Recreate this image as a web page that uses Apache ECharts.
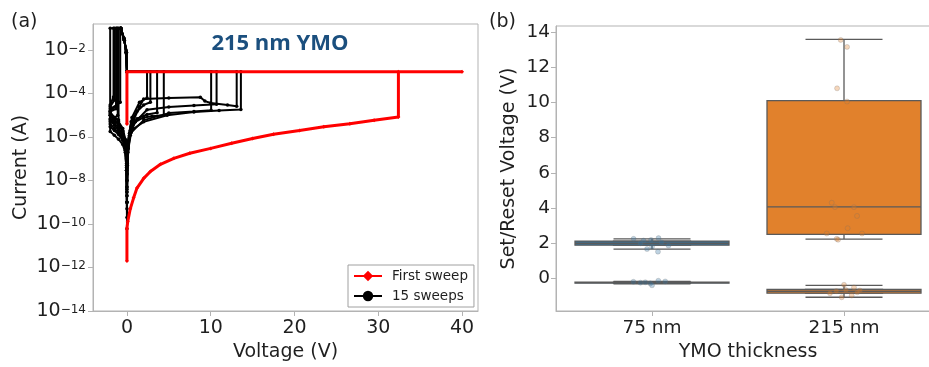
<!DOCTYPE html>
<html>
<head>
<meta charset="utf-8">
<title>YMO resistive switching</title>
<script src="https://cdn.jsdelivr.net/npm/echarts@6/dist/echarts.min.js"></script>
<style>
  html, body { margin: 0; padding: 0; background: #fff; overflow: hidden; }
  /* a bit wider than the window: panel (b) runs past the right edge, as in the figure */
  #chart { width: 945px; height: 367px; }
</style>
</head>
<body>
<div id="chart"></div>
<script>
// (a) I-V sweeps, points are [voltage (V), current (A)]
const firstSweep = [
  [0, 2.0e-12], [0, 6.3e-11], [0.1, 1.3e-10], [0.4, 5e-10], [0.8, 1.6e-9], [1.2, 4.5e-9],
  [2, 1.26e-8], [2.8, 2.6e-8], [4, 5.6e-8], [5.6, 1.05e-7], [7.5, 1.8e-7], [10, 3.0e-7],
  [12.5, 5.2e-7], [15, 8.5e-7], [17.5, 1.35e-6], [20.6, 2.0e-6], [23.5, 2.95e-6], [26.6, 4.1e-6],
  [29.5, 5.9e-6], [32.4, 8.3e-6], [32.4, 1.0e-3], [40, 1.0e-3], [0, 1.0e-3], [0, 4.0e-6]
];
const sweep1 = [
  [0, 6e-11], [0.03, 2e-8], [0.15, 3e-7], [0.4, 1.2e-6], [0.8, 2.4e-6], [2, 5.0e-6], [4.8, 1.0e-5],
  [8, 1.4e-5], [11, 1.66e-5], [13.6, 1.86e-5], [13.6, 1e-3], [0, 1e-3], [-0.08, 8e-3], [-0.32, 3e-2],
  [-0.72, 0.1], [-2, 0.1], [-2, 1.8e-6], [-1.5, 1.2e-6], [-1, 8e-7], [-0.5, 4.5e-7], [-0.2, 2e-7],
  [-0.05, 3e-8], [0, 2e-9]
];
const sweep2 = [
  [0, 1e-9], [0.05, 5e-8], [0.3, 1.5e-6], [0.8, 6e-6], [1.5, 2.5e-5], [2, 5.6e-5], [5, 6.3e-5],
  [8.76, 6.8e-5], [9.3, 4.5e-5], [10, 3.7e-5], [12, 3.0e-5], [13.1, 2.6e-5], [13.1, 1e-3], [0, 1e-3],
  [-0.08, 8e-3], [-0.32, 3e-2], [-0.72, 0.1], [-1, 0.1], [-1, 6e-6], [-1.5, 8e-6], [-2, 1.4e-5],
  [-2, 6e-6], [-1.5, 3.5e-6], [-1, 2e-6], [-0.5, 1e-6], [-0.2, 4e-7], [-0.05, 5e-8], [0, 1e-9]
];
const sweep3 = [
  [0, 1e-9], [0.05, 6e-8], [0.3, 1.2e-6], [1, 5e-6], [2.4, 1.8e-5], [5, 2.4e-5], [8, 2.8e-5],
  [10.7, 3.2e-5], [10.7, 1e-3], [0, 1e-3], [-0.08, 7e-3], [-0.3, 2.8e-2], [-0.7, 0.09], [-1.3, 0.1],
  [-1.3, 2e-5], [-2, 1.5e-5], [-2, 4e-6], [-1.5, 2.5e-6], [-1, 1.6e-6], [-0.5, 8e-7], [-0.2, 3e-7],
  [-0.05, 4e-8], [0, 2e-10]
];
const sweep4 = [
  [0, 5e-9], [0.1, 2e-7], [0.5, 1.6e-6], [2, 6e-6], [5, 1.26e-5], [8, 1.5e-5], [10.05, 1.7e-5],
  [10.05, 1e-3], [0, 1e-3], [-0.08, 9e-3], [-0.35, 3.5e-2], [-0.75, 0.1], [-1.6, 0.1], [-1.6, 7e-5],
  [-2, 3e-5], [-2, 1e-5], [-1.5, 6e-6], [-1, 3.5e-6], [-0.5, 1.8e-6], [-0.2, 6e-7], [-0.05, 8e-8],
  [0, 3e-9]
];
const sweep5 = [
  [0, 3e-9], [0.1, 3e-7], [0.4, 2e-6], [1, 5e-6], [2, 8e-6], [3, 9e-6], [4.4, 1e-5], [4.4, 1e-3],
  [0, 1e-3], [-0.08, 8e-3], [-0.32, 3e-2], [-0.8, 0.1], [-0.8, 4e-5], [-1.2, 3e-5], [-2, 2e-5],
  [-2, 1.2e-5], [-1.5, 8e-6], [-1, 5e-6], [-0.5, 2.5e-6], [-0.2, 8e-7], [-0.05, 1e-7], [0, 1e-8]
];
const sweep6 = [
  [0, 1e-8], [0.1, 4e-7], [0.5, 3e-6], [1.2, 7e-6], [2.4, 1.1e-5], [3.6, 1.3e-5], [3.6, 1e-3],
  [0, 1e-3], [-0.1, 1e-2], [-0.35, 3.5e-2], [-0.75, 0.1], [-1.1, 0.1], [-1.1, 1e-5], [-2, 5e-6],
  [-2, 3e-6], [-1.5, 2e-6], [-1, 1.3e-6], [-0.5, 7e-7], [-0.2, 2.5e-7], [-0.05, 3e-8], [0, 5e-10]
];
const sweep7 = [
  [0, 2e-9], [0.1, 5e-7], [0.5, 5e-6], [1.2, 1.5e-5], [2, 3e-5], [2.8, 4e-5], [2.8, 1e-3],
  [0, 1e-3], [-0.08, 8e-3], [-0.32, 3e-2], [-0.72, 0.1], [-1.2, 0.1], [-1.2, 3e-5], [-2, 1.6e-5],
  [-2, 7e-6], [-1.5, 4.5e-6], [-1, 2.6e-6], [-0.5, 1.3e-6], [-0.2, 4.5e-7], [-0.05, 6e-8], [0, 1e-9]
];
const sweep8 = [
  [0, 4e-9], [0.1, 6e-7], [0.6, 8e-6], [1.5, 4e-5], [2.4, 6.3e-5], [2.4, 1e-3], [0, 1e-3],
  [-0.08, 8e-3], [-0.32, 3e-2], [-0.72, 0.1], [-1.5, 0.1], [-1.5, 5e-5], [-2, 2.5e-5], [-2, 1e-5],
  [-1.5, 6e-6], [-1, 4e-6], [-0.5, 2e-6], [-0.2, 7e-7], [-0.05, 9e-8], [0, 5e-9]
];
const cycleSweeps = [sweep1, sweep2, sweep3, sweep4, sweep5, sweep6, sweep7, sweep8];
const voltageTicks = [0, 10, 20, 30, 40];
const currentTicks = [1e-14, 1e-12, 1e-10, 1e-8, 1e-6, 1e-4, 1e-2];

// (b) set/reset voltage, [lower whisker, q1, median, q3, upper whisker]
const thickness = ['75 nm', '215 nm'];
const setVoltage = [[1.67, 1.89, 2.0, 2.12, 2.25], [2.23, 2.5, 4.06, 10.1, 13.58]];
const resetVoltage = [[-0.31, -0.27, -0.24, -0.21, -0.17], [-1.07, -0.84, -0.74, -0.63, -0.39]];
const setPoints = [
  [2.25, 2.15, 2.19, 2.29, 1.87, 1.67, 1.8, 1.52, 2.0, 2.05],
  [13.55, 13.15, 10.8, 10.05, 4.3, 4.05, 4.05, 3.55, 2.85, 2.55, 2.55, 2.25, 2.2]
];
const setJitter = [
  [-0.096, -0.044, -0.005, 0.034, 0.086, -0.026, 0, 0.031, -0.06, 0.05],
  [-0.017, 0.016, -0.036, 0.016, -0.064, -0.047, 0.052, 0.068, 0.019, -0.09, 0.094, -0.038, -0.031]
];
const resetPoints = [
  [-0.19, -0.28, -0.13, -0.17, -0.39, -0.24, -0.22],
  [-0.36, -0.51, -0.66, -0.69, -0.84, -1.07, -0.97, -0.79, -0.72]
];
const resetJitter = [
  [-0.097, -0.009, 0.033, 0.069, 0, -0.06, -0.035],
  [0, 0.052, 0.01, 0.083, -0.073, -0.012, 0.04, 0.069, -0.04]
];
const voltTicksB = [0, 2, 4, 6, 8, 10, 12, 14];

const boxColors = ['#3274a1', '#e1812c'];
const dotColors = ['rgba(50,116,161,0.4)', 'rgba(225,129,44,0.4)'];
const frame = '#b3b3b3';
const ink = '#1f1f1f';
const edge = '#5a5a5a';

const chart = echarts.init(document.getElementById('chart'));

function boxItems(rows) {
  return rows.map((v, i) => ({ value: v, itemStyle: { color: boxColors[i] } }));
}

function stripData(points, jitter) {
  const out = [];
  points.forEach((vals, i) => {
    vals.forEach((v, k) => out.push({ value: [i + jitter[i][k], v], itemStyle: { color: dotColors[i] } }));
  });
  return out;
}

const series = [];
cycleSweeps.forEach(s => {
  series.push({
    type: 'line', name: '15 sweeps', xAxisIndex: 0, yAxisIndex: 0, data: s,
    symbol: 'circle', symbolSize: 3.5, lineStyle: { color: '#000', width: 2 },
    itemStyle: { color: '#000' }, z: 2
  });
});
series.push({
  type: 'line', name: 'First sweep', xAxisIndex: 0, yAxisIndex: 0, data: firstSweep,
  symbol: 'diamond', symbolSize: 4, lineStyle: { color: '#ff0000', width: 3 },
  itemStyle: { color: '#ff0000' }, z: 3
});

// boxplot series sharing one category axis get placed side by side,
// so each one sits on its own (hidden) copy of the category axis
const boxAxes = [[1, 3], [4, 5]];
[setVoltage, resetVoltage].forEach((rows, n) => {
  series.push({
    type: 'boxplot', xAxisIndex: boxAxes[n][0], yAxisIndex: 1, boxWidth: [77, 77],
    data: rows.map(v => ({ value: v })),
    itemStyle: { color: 'transparent', borderColor: edge, borderWidth: 1.3 }, z: 2
  });
  series.push({
    type: 'boxplot', xAxisIndex: boxAxes[n][1], yAxisIndex: 1, boxWidth: [154, 154],
    data: boxItems(rows.map(v => [v[1], v[1], v[2], v[3], v[3]])),
    itemStyle: { borderColor: edge, borderWidth: 1.3 }, z: 3
  });
});
series.push({
  type: 'scatter', xAxisIndex: 2, yAxisIndex: 1, symbolSize: 5, z: 4,
  data: stripData(setPoints, setJitter).concat(stripData(resetPoints, resetJitter)),
  itemStyle: { borderColor: 'rgba(110,110,110,0.5)', borderWidth: 0.6 }
});

const labelText = { color: ink, fontSize: 19 };
const hiddenCategory = { type: 'category', gridIndex: 1, data: thickness, show: false, axisLine: { onZero: false } };

chart.setOption({
  animation: false,
  textStyle: { fontFamily: 'DejaVu Sans' },
  graphic: [
    { type: 'text', x: 11, y: 22, style: { text: '(a)', font: '19px "DejaVu Sans"', fill: ink, verticalAlign: 'middle' } },
    { type: 'text', x: 489, y: 22, style: { text: '(b)', font: '19px "DejaVu Sans"', fill: ink, verticalAlign: 'middle' } },
    { type: 'text', x: 280, y: 44, z: 10, style: { text: '215 nm YMO', font: 'bold 22px "Open Sans"', fill: '#1b4f7e', align: 'center', verticalAlign: 'middle' } }
  ],
  legend: {
    data: ['First sweep', '15 sweeps'],
    left: 348, top: 265, orient: 'vertical',
    itemWidth: 28, itemHeight: 13, itemGap: 6,
    padding: [4, 6, 4, 5],
    borderColor: '#a0a0a0', borderWidth: 1, backgroundColor: '#fff',
    textStyle: { fontSize: 13.5, color: ink, padding: [0, 0, 0, 5] }
  },
  grid: [
    { left: 93, top: 24, width: 385, height: 290, show: true, borderColor: frame, borderWidth: 1 },
    { left: 556, top: 26, width: 384, height: 288, show: true, borderColor: frame, borderWidth: 1 }
  ],
  xAxis: [
    {
      type: 'value', gridIndex: 0, min: -4.05, max: 41.9,
      name: 'Voltage (V)', nameLocation: 'middle', nameGap: 32, nameTextStyle: labelText,
      axisLine: { show: true, onZero: false, lineStyle: { color: frame } },
      axisTick: { show: true, length: 5, lineStyle: { color: frame }, customValues: voltageTicks },
      axisLabel: { customValues: voltageTicks, margin: 8, color: ink, fontSize: 19 },
      splitLine: { show: false }
    },
    {
      type: 'category', gridIndex: 1, data: thickness,
      name: 'YMO thickness', nameLocation: 'middle', nameGap: 32, nameTextStyle: labelText,
      axisLine: { show: true, onZero: false, lineStyle: { color: frame } },
      axisTick: { show: true, alignWithLabel: true, length: 5, lineStyle: { color: frame } },
      axisLabel: { margin: 8, color: ink, fontSize: 18.5 },
      splitLine: { show: false }
    },
    { type: 'value', gridIndex: 1, min: -0.5, max: 1.5, show: false, axisLine: { onZero: false } },
    hiddenCategory, hiddenCategory, hiddenCategory
  ],
  yAxis: [
    {
      type: 'log', gridIndex: 0, min: 1e-14, max: 0.158,
      name: 'Current (A)', nameLocation: 'middle', nameGap: 62, nameTextStyle: labelText,
      axisLine: { show: true, onZero: false, lineStyle: { color: frame } },
      axisTick: { show: true, length: 5, lineStyle: { color: frame }, customValues: currentTicks },
      axisLabel: {
        customValues: currentTicks, margin: 7,
        formatter: v => '{b|10}{s|\u2212' + (-Math.round(Math.log10(v))) + '}',
        rich: {
          b: { fontSize: 19, color: ink, lineHeight: 19, verticalAlign: 'bottom' },
          s: { fontSize: 12, color: ink, lineHeight: 12, verticalAlign: 'top', padding: [2, 0, 0, 0] }
        }
      },
      splitLine: { show: false }
    },
    {
      type: 'value', gridIndex: 1, min: -1.85, max: 14.34,
      name: 'Set/Reset Voltage (V)', nameLocation: 'middle', nameGap: 37, nameTextStyle: labelText,
      axisLine: { show: true, onZero: false, lineStyle: { color: frame } },
      axisTick: { show: true, length: 5, lineStyle: { color: frame }, customValues: voltTicksB },
      axisLabel: { customValues: voltTicksB, margin: 6, color: ink, fontSize: 18.5 },
      splitLine: { show: false }
    }
  ],
  series: series
});
</script>
</body>
</html>
